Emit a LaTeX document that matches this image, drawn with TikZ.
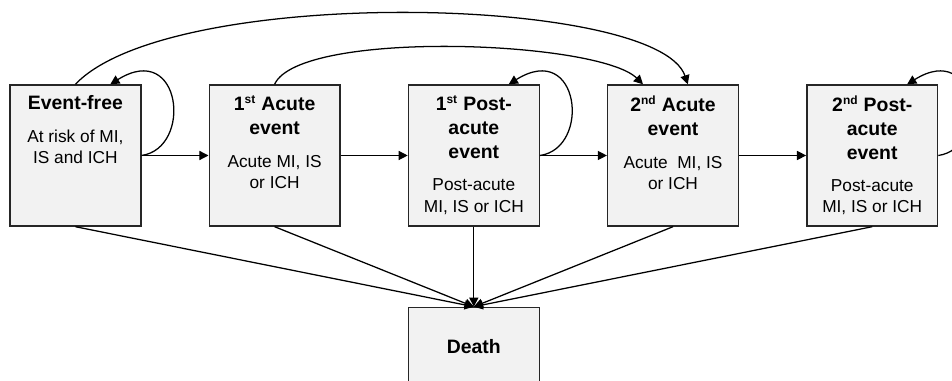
\documentclass[tikz,border=0pt]{standalone}
\usepackage{fontspec}
\setmainfont{Liberation Sans}
\usetikzlibrary{positioning, arrows.meta, calc}
\newcommand{\ord}[1]{\textsuperscript{\fontsize{8.5}{8.5}\selectfont #1}}

\begin{document}
\begin{tikzpicture}[node distance=1.675cm,
	state/.style={draw=black!85, line width=1pt, fill=black!5, minimum width=3.27cm, minimum height=3.525cm, inner sep=0pt},
	ttl/.style={align=center, inner sep=0pt, font=\fontsize{13.8}{17}\selectfont\bfseries},
	txt/.style={align=center, inner sep=0pt, font=\fontsize{12.3}{15}\selectfont},
	arr/.style={-{Triangle[length=6.5pt,width=6.5pt]}, line width=0.9pt}]
	\useasboundingbox (0,0) rectangle (23.8,9.525);
	% states
	\node at (1.885,5.6375) [state] (ef) {};
	\node [state, right=of ef] (ac1) {};
	\node [state, right=of ac1] (pa1) {};
	\node [state, right=of pa1] (ac2) {};
	\node [state, right=of ac2] (pa2) {};
	\node [state, below=2cm of pa1, minimum height=2.05cm] (death) {};
	% titles and descriptions
	\node [ttl, below=0.27cm of ef.north] (ef-t) {Event-free};
	\node [ttl, below=0.27cm of ac1.north] (ac1-t) {1\ord{st} Acute\\event};
	\node [ttl, below=0.27cm of pa1.north] (pa1-t) {1\ord{st} Post-\\acute\\event};
	\node [ttl, below=0.27cm of ac2.north] (ac2-t) {2\ord{nd} Acute\\event};
	\node [ttl, below=0.27cm of pa2.north] (pa2-t) {2\ord{nd} Post-\\acute\\event};
	\node [txt, below=0.5cm of ef-t] (ef-b) {At risk of MI,\\IS and ICH};
	\node [txt, below=0.5cm of ac1-t] (ac1-b) {Acute MI, IS\\or ICH};
	\node [txt, below=0.5cm of pa1-t] (pa1-b) {Post-acute\\MI, IS or ICH};
	\node [txt, below=0.5cm of ac2-t] (ac2-b) {Acute~ MI, IS\\or ICH};
	\node [txt, below=0.5cm of pa2-t] (pa2-b) {Post-acute\\MI, IS or ICH};
	\node [ttl, yshift=0.05cm] at (death) (death-t) {Death};
	% transitions
	\draw [arr] (ef) -- (ac1);
	\draw [arr] (ac1) -- (pa1);
	\draw [arr] (pa1) -- (ac2);
	\draw [arr] (ac2) -- (pa2);
	\draw [arr] (ef.east) .. controls +(8:1.3) and +(32:2.1) .. ([xshift=-0.78cm]ef.north east);
	\draw [arr] (pa1.east) .. controls +(8:1.3) and +(32:2.1) .. ([xshift=-0.78cm]pa1.north east);
	\draw [arr] (pa2.east) .. controls +(8:1.3) and +(32:2.1) .. ([xshift=-0.78cm]pa2.north east);
	\draw [arr] (ef.north) .. controls +(2.375,2.5) and +(-0.75,2.225) .. ([xshift=0.37cm]ac2.north);
	\draw [arr] (ac1.north) .. controls +(0.625,1.375) and +(-1.125,1.1) .. ([xshift=-0.75cm]ac2.north);
	% to death
	\draw [arr] (ef.south) -- (death.north);
	\draw [arr] (ac1.south) -- (death.north);
	\draw [arr] (pa1.south) -- (death.north);
	\draw [arr] (ac2.south) -- (death.north);
	\draw [arr] (pa2.south) -- (death.north);
\end{tikzpicture}
\end{document}
